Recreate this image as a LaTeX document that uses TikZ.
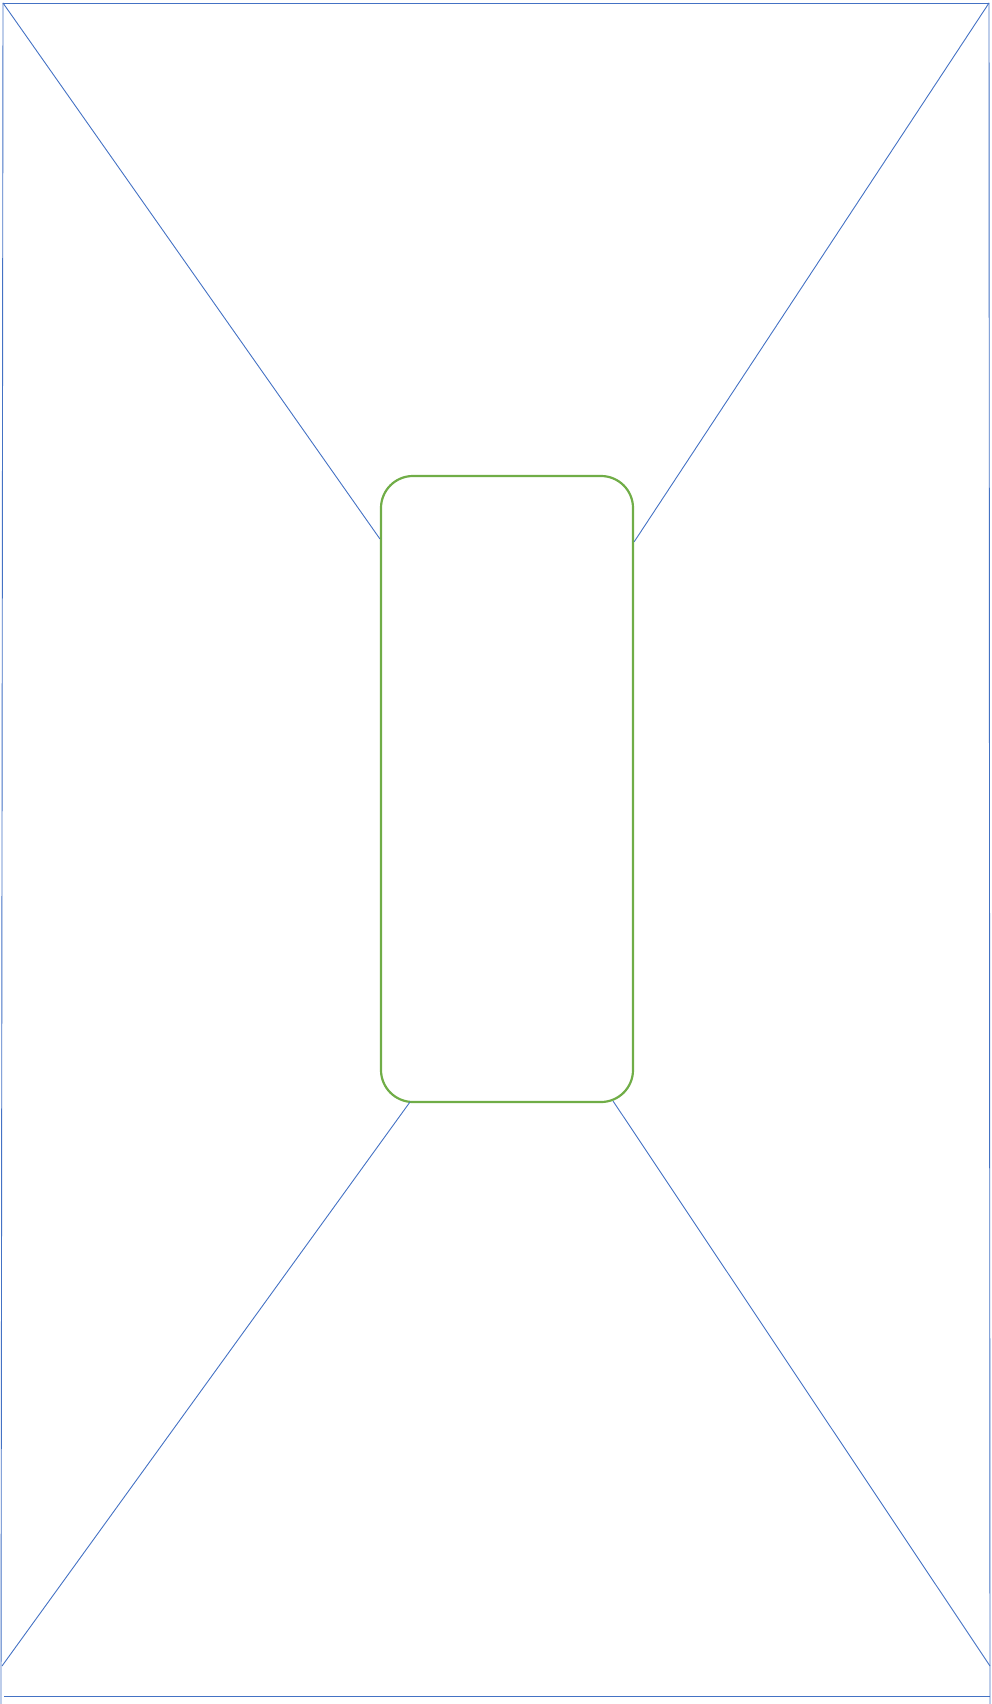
\documentclass[tikz,border=0pt]{standalone}
\usepackage{tikz}
\usetikzlibrary{positioning,calc}
\definecolor{FrameBlue}{RGB}{68,114,196}
\definecolor{PanelGreen}{RGB}{112,173,71}

\begin{document}
\begin{tikzpicture}[
    x=1pt,
    y=-1pt,
    edge/.style={draw=FrameBlue, line width=0.9pt},
    panel/.style={
        draw=PanelGreen,
        line width=2.2pt,
        rounded corners=32pt,
        minimum width=252pt,
        minimum height=626pt,
        inner sep=0pt
    }
]
\useasboundingbox (0,0) rectangle (992,1704);

% outer frame corners
\coordinate (tl) at (3,3);
\coordinate (tr) at (989,3);
\coordinate (tlbot) at (1,1704);
\coordinate (trbot) at (990,1704);
\coordinate (ll) at (2,1666);
\coordinate (lr) at (990,1666);
\coordinate (bl) at (4,1696);
\coordinate (br) at (990,1696);

\node[panel] (screen) at (507,789) {};

\draw[edge] (tl) -- (tr);
\draw[edge] (tl) -- (tlbot);
\draw[edge] (tr) -- (trbot);
\draw[edge] (bl) -- (br);

% diagonals to the panel
\draw[edge] (tl) -- ([yshift=-64pt]screen.north west);
\draw[edge] (tr) -- ([yshift=-67pt]screen.north east);
\draw[edge] (ll) -- ([xshift=30pt,yshift=1pt]screen.south west);
\draw[edge] (lr) -- ([xshift=-21pt,yshift=2pt]screen.south east);

\end{tikzpicture}
\end{document}
